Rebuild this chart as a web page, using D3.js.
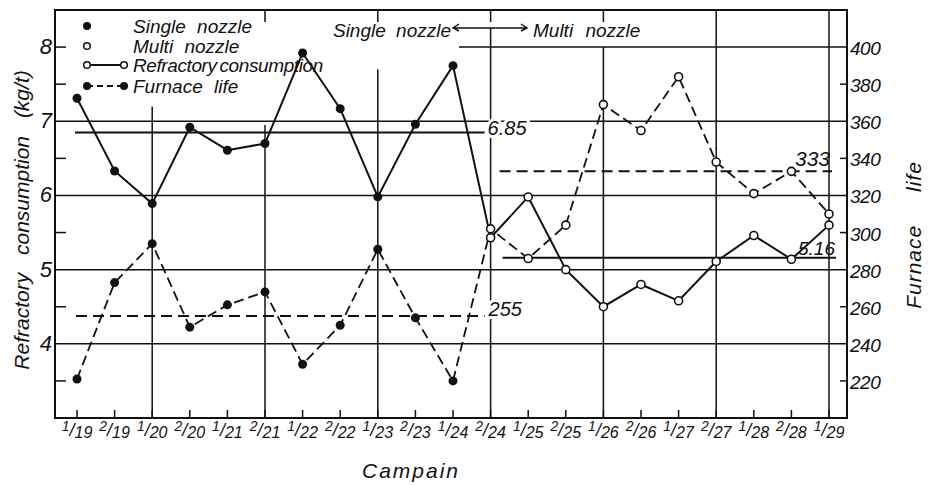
<!DOCTYPE html>
<html>
<head>
<meta charset="utf-8">
<script src="https://cdn.jsdelivr.net/npm/d3@7"></script>
<style>
    body { margin: 0; background: #fff; }
    text { font-family: 'Liberation Sans', Arial, sans-serif; font-style: italic; fill: #111; }
    .frame, .grid, .tick { stroke: #111; fill: none; }
</style>
</head>
<body>
<div id="chart"></div>
<script>
const width = 929
const height = 486
const frame = { left: 55, right: 847, top: 10, bottom: 418 }

// data
const campaigns = ['1/19', '2/19', '1/20', '2/20', '1/21', '2/21', '1/22', '2/22', '1/23', '2/23', '1/24',
    '2/24', '1/25', '2/25', '1/26', '2/26', '1/27', '2/27', '1/28', '2/28', '1/29']
const refractory = [7.31, 6.33, 5.89, 6.92, 6.61, 6.70, 7.92, 7.17, 5.98, 6.96, 7.75,
    5.43, 5.98, 5.00, 4.50, 4.80, 4.58, 5.11, 5.46, 5.14, 5.60]
const furnaceLife = [221, 273, 294, 249, 261, 268, 229, 250, 291, 254, 220,
    302, 286, 304, 369, 355, 384, 338, 321, 333, 310]
const singleCount = 11 // first 11 campaigns are single nozzle
const refractoryMeans = [6.85, 5.16]
const furnaceMeans = [255, 333]
const leftTicks = [4, 5, 6, 7, 8]
const rightTicks = [220, 240, 260, 280, 300, 320, 340, 360, 380, 400]
const gridCampaigns = ['1/20', '2/21', '1/23', '2/24', '1/26', '2/27', '1/29']

let svg = d3.select('#chart').append('svg').attr('width', width).attr('height', height)
    .style('background', '#fff')

let x = d3.scalePoint().domain(campaigns).range([77, 829])
let y = d3.scaleLinear().domain([3, 8.5]).range([frame.bottom, frame.top])
let yR = d3.scaleLinear().domain([200, 420]).range([frame.bottom, frame.top])

let gridGroup = svg.append('g').attr('id', 'gridGroup')

// horizontal grid
gridGroup.selectAll('line.hgrid').data([4, 5, 6, 7]).enter().append('line')
    .attr('class', 'grid')
    .attr('x1', frame.left).attr('x2', frame.right)
    .attr('y1', d => y(d)).attr('y2', d => y(d))
    .attr('stroke-width', 1.5)
gridGroup.append('line').attr('class', 'grid')
    .attr('x1', x('1/24') + 6).attr('x2', frame.right)
    .attr('y1', y(8)).attr('y2', y(8))
    .attr('stroke-width', 1.5)

// vertical grid, some start lower to leave room for the legend and notes
const gridTop = { '1/20': 7.2, '2/21': 6.95, '1/23': 7.7, '2/24': 8.26, '1/26': 8, '2/27': 8.5, '1/29': 8.5 }
gridGroup.selectAll('line.vgrid').data(gridCampaigns).enter().append('line')
    .attr('class', 'grid')
    .attr('x1', d => x(d)).attr('x2', d => x(d))
    .attr('y1', d => y(gridTop[d])).attr('y2', frame.bottom)
    .attr('stroke-width', 1.5)
gridGroup.selectAll('line.toptick').data(['2/21', '1/23', '2/24', '1/26']).enter().append('line')
    .attr('class', 'tick')
    .attr('x1', d => x(d)).attr('x2', d => x(d))
    .attr('y1', frame.top).attr('y2', frame.top + 12)
    .attr('stroke-width', 1.5)

// frame
svg.append('rect').attr('class', 'frame')
    .attr('x', frame.left).attr('y', frame.top)
    .attr('width', frame.right - frame.left).attr('height', frame.bottom - frame.top)
    .attr('stroke-width', 2)

// bottom ticks and labels
let xAxisGroup = svg.append('g').attr('id', 'xAxisGroup')
xAxisGroup.selectAll('line').data(campaigns).enter().append('line')
    .attr('class', 'tick')
    .attr('x1', d => x(d)).attr('x2', d => x(d))
    .attr('y1', frame.bottom).attr('y2', frame.bottom - 8)
    .attr('stroke-width', 1.5)
let xLabels = xAxisGroup.selectAll('text').data(campaigns).enter().append('text')
    .attr('x', d => x(d))
    .attr('y', 438)
    .attr('text-anchor', 'middle')
    .attr('font-size', 17)
xLabels.append('tspan').attr('font-size', 14).attr('dy', -7).text(d => d.split('/')[0])
xLabels.append('tspan').attr('font-size', 18).attr('dy', 5).text('/')
xLabels.append('tspan').attr('font-size', 16).attr('dy', 2).text(d => d.split('/')[1])

// left axis
let yAxisGroup = svg.append('g').attr('id', 'yAxisGroup')
yAxisGroup.selectAll('line').data([3.5, 4.5, 5.5, 6.5, 7.5, 8]).enter().append('line')
    .attr('class', 'tick')
    .attr('x1', frame.left).attr('x2', frame.left + 11)
    .attr('y1', d => y(d)).attr('y2', d => y(d))
    .attr('stroke-width', 1.5)
yAxisGroup.selectAll('text').data(leftTicks).enter().append('text')
    .attr('x', 52).attr('y', d => y(d) + 7)
    .attr('text-anchor', 'end')
    .attr('font-size', 22)
    .text(d => d)
svg.append('text')
    .attr('transform', `translate(29, 220) rotate(-90)`)
    .attr('text-anchor', 'middle')
    .attr('font-size', 21)
    .attr('word-spacing', 12)
    .text('Refractory consumption (kg/t)')

// right axis
let yRAxisGroup = svg.append('g').attr('id', 'yRAxisGroup')
yRAxisGroup.selectAll('line').data([220, 260, 300, 340, 380]).enter().append('line')
    .attr('class', 'tick')
    .attr('x1', frame.right - 7).attr('x2', frame.right)
    .attr('y1', d => yR(d)).attr('y2', d => yR(d))
    .attr('stroke-width', 1.5)
yRAxisGroup.selectAll('text').data(rightTicks).enter().append('text')
    .attr('x', 850).attr('y', d => yR(d) + 8)
    .attr('font-size', 19)
    .attr('letter-spacing', -0.5)
    .text(d => d)
svg.append('text')
    .attr('transform', `translate(921, 235) rotate(-90)`)
    .attr('text-anchor', 'middle')
    .attr('font-size', 21)
    .attr('letter-spacing', 1)
    .attr('word-spacing', 26)
    .text('Furnace life')

svg.append('text')
    .attr('x', 411).attr('y', 478)
    .attr('text-anchor', 'middle')
    .attr('font-size', 21)
    .attr('letter-spacing', 2)
    .text('Campain')

// mean lines
let meanGroup = svg.append('g').attr('id', 'meanGroup')
meanGroup.append('line')
    .attr('x1', x('1/19') - 2).attr('x2', x('2/24') - 6)
    .attr('y1', y(refractoryMeans[0])).attr('y2', y(refractoryMeans[0]))
    .attr('stroke', '#111').attr('stroke-width', 2)
meanGroup.append('line')
    .attr('x1', x('2/24') + 12).attr('x2', x('1/29') + 7)
    .attr('y1', y(refractoryMeans[1])).attr('y2', y(refractoryMeans[1]))
    .attr('stroke', '#111').attr('stroke-width', 2)
meanGroup.append('line')
    .attr('x1', x('1/19') - 1).attr('x2', x('2/24') - 6)
    .attr('y1', yR(furnaceMeans[0])).attr('y2', yR(furnaceMeans[0]))
    .attr('stroke', '#111').attr('stroke-width', 2).attr('stroke-dasharray', '11,6')
meanGroup.append('line')
    .attr('x1', x('2/24') + 9).attr('x2', x('1/29') + 3)
    .attr('y1', yR(furnaceMeans[1])).attr('y2', yR(furnaceMeans[1]))
    .attr('stroke', '#111').attr('stroke-width', 2).attr('stroke-dasharray', '11,6')

const haloText = (sel) => sel
    .attr('font-size', 20)
    .attr('stroke', '#fff').attr('stroke-width', 6).attr('paint-order', 'stroke')
meanGroup.append('text').call(haloText)
    .attr('x', x('2/24') - 3).attr('y', y(refractoryMeans[0]) + 3)
    .text(refractoryMeans[0].toFixed(2))
meanGroup.append('text').call(haloText)
    .attr('x', x('2/24') - 2).attr('y', yR(furnaceMeans[0]))
    .text(furnaceMeans[0])
meanGroup.append('text')
    .attr('font-size', 19)
    .attr('x', x('1/29') + 6).attr('y', y(refractoryMeans[1]) - 3)
    .attr('text-anchor', 'end')
    .text(refractoryMeans[1].toFixed(2))
meanGroup.append('text')
    .attr('font-size', 21)
    .attr('x', x('1/29') + 1).attr('y', yR(furnaceMeans[1]) - 5)
    .attr('text-anchor', 'end')
    .text(furnaceMeans[1])

// series
let lineGroup = svg.append('g').attr('id', 'lineGroup')
let refLine = d3.line().x((d, i) => x(campaigns[i])).y(d => y(d))
let lifeLine = d3.line().x((d, i) => x(campaigns[i])).y(d => yR(d))

lineGroup.append('path').datum(furnaceLife)
    .attr('d', lifeLine)
    .attr('fill', 'none').attr('stroke', '#111').attr('stroke-width', 1.8)
    .attr('stroke-dasharray', '10,5')
lineGroup.append('path').datum(refractory)
    .attr('d', refLine)
    .attr('fill', 'none').attr('stroke', '#111').attr('stroke-width', 2)

function drawPoints(values, scale) {
    lineGroup.append('g').selectAll('circle').data(values).enter().append('circle')
        .attr('cx', (d, i) => x(campaigns[i]))
        .attr('cy', d => scale(d))
        .attr('r', (d, i) => i < singleCount ? 4.5 : 4)
        .attr('fill', (d, i) => i < singleCount ? '#111' : '#fff')
        .attr('stroke', '#111')
        .attr('stroke-width', (d, i) => i < singleCount ? 0 : 1.6)
}
drawPoints(furnaceLife, yR)
drawPoints(refractory, y)

// legend
let legend = svg.append('g').attr('id', 'legend')
const legendItems = ['Single nozzle', 'Multi nozzle', 'Refractory consumption', 'Furnace life']
const legendY = [26, 46, 65, 86]
legend.selectAll('text').data(legendItems).enter().append('text')
    .attr('x', 133).attr('y', (d, i) => legendY[i] + 7)
    .attr('font-size', 19)
    .attr('letter-spacing', (d, i) => i === 2 ? -0.4 : 0)
    .attr('word-spacing', (d, i) => i === 2 ? -2 : 6)
    .text(d => d)
legend.append('line')
    .attr('x1', 87).attr('x2', 124).attr('y1', legendY[2]).attr('y2', legendY[2])
    .attr('stroke', '#111').attr('stroke-width', 2)
legend.append('line')
    .attr('x1', 87).attr('x2', 124).attr('y1', legendY[3]).attr('y2', legendY[3])
    .attr('stroke', '#111').attr('stroke-width', 1.8).attr('stroke-dasharray', '6,4')
const legendDots = [[87, 0, true], [87, 1, false], [87, 2, false], [124, 2, false], [87, 3, true], [124, 3, true]]
legend.selectAll('circle').data(legendDots).enter().append('circle')
    .attr('cx', d => d[0]).attr('cy', d => legendY[d[1]])
    .attr('r', d => d[2] ? 4 : 3.3)
    .attr('fill', d => d[2] ? '#111' : '#fff')
    .attr('stroke', '#111').attr('stroke-width', d => d[2] ? 0 : 1.5)

// single / multi note
let note = svg.append('g').attr('id', 'note')
note.append('text')
    .attr('x', 451).attr('y', 37).attr('text-anchor', 'end').attr('font-size', 19)
    .attr('word-spacing', 5)
    .text('Single nozzle')
note.append('text')
    .attr('x', 533).attr('y', 37).attr('font-size', 19)
    .attr('word-spacing', 7)
    .text('Multi nozzle')
note.append('path')
    .attr('d', `M453,28 H527 M459,24 L453,28 L459,31 M521,24 L527,28 L521,31`)
    .attr('fill', 'none').attr('stroke', '#111').attr('stroke-width', 1.4)
</script>
</body>
</html>
